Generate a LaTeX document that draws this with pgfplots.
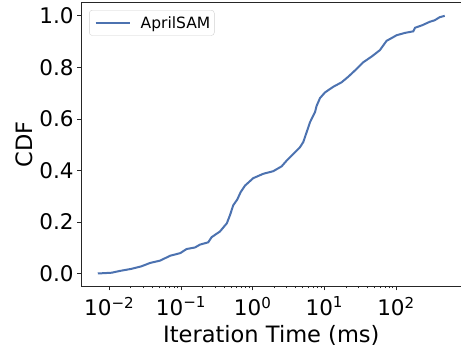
\documentclass[border=0pt]{standalone}
\usepackage{fontspec}
\setmainfont{DejaVu Sans}
\usepackage{pgfplots}
\pgfplotsset{compat=1.18}
\definecolor{lineblue}{RGB}{76,114,176}
\definecolor{spine}{RGB}{38,38,38}
\begin{document}
\begin{tikzpicture}
\begin{axis}[
  name=ax,
  xmode=log,
  scale only axis,
  width=380pt, height=283pt,
  xmin=0.00405, xmax=822,
  ymin=-0.05, ymax=1.05,
  axis line style={spine, line width=1pt},
  tick align=outside,
  tick pos=left,
  major tick length=4pt,
  minor tick length=2pt,
  every tick/.style={spine, line width=0.8pt},
  xtick={0.01,0.1,1,10,100},
  xticklabels={10\textsuperscript{−2},10\textsuperscript{−1},10\textsuperscript{0},10\textsuperscript{1},10\textsuperscript{2}},
  ytick={0,0.2,0.4,0.6,0.8,1.0},
  yticklabels={0.0,0.2,0.4,0.6,0.8,1.0},
  tick label style={font=\fontsize{21.5}{24}\selectfont},
  xticklabel style={yshift=-3pt},
  label style={font=\fontsize{22.5}{26}\selectfont},
  xlabel style={yshift=-3pt},
  xlabel={Iteration Time (ms)},
  ylabel={CDF},
  legend style={at={(0,1)}, anchor=north west, xshift=8pt, yshift=-7pt,
    draw=black!18, rounded corners=3pt, fill=white,
    font=\fontsize{15.5}{18}\selectfont, inner xsep=2pt, inner ysep=4pt,
    column sep=8pt},
  legend cell align=left,
  legend image code/.code={\path (0pt,0pt); \draw[#1] (3.3pt,0pt) -- (37.3pt,0pt);},
]
\addplot[lineblue, line width=2pt, no marks] coordinates {
(0.00692,0) (0.0108,0.003) (0.0141,0.01) (0.0204,0.018) (0.0282,0.028)
(0.0372,0.041) (0.0513,0.05) (0.0708,0.069) (0.0977,0.079) (0.120,0.095)
(0.157,0.101) (0.184,0.112) (0.240,0.121) (0.268,0.141) (0.350,0.163)
(0.437,0.195) (0.484,0.227) (0.537,0.265) (0.610,0.287) (0.681,0.316)
(0.782,0.341) (1.019,0.37) (1.406,0.387) (1.936,0.397) (2.541,0.416)
(2.979,0.438) (3.690,0.464) (4.571,0.49) (5.082,0.51) (5.662,0.548)
(6.310,0.587) (7.413,0.626) (7.816,0.651) (8.710,0.681) (10.23,0.703)
(13.37,0.725) (17.38,0.742) (21.63,0.764) (28.18,0.794) (34.91,0.82)
(45.71,0.842) (59.57,0.867) (73.79,0.903) (102.3,0.925) (133.4,0.934)
(173.8,0.94) (184.1,0.954) (229.1,0.963) (295.1,0.977) (346.7,0.983)
(407.4,0.995) (478.6,1.0)
};
\addlegendentry{AprilSAM}
\end{axis}
\pgfresetboundingbox
\path[use as bounding box] ([xshift=-81pt,yshift=-64pt]ax.south west) rectangle ([xshift=-0.6pt,yshift=3pt]ax.north east);
\end{tikzpicture}
\end{document}
